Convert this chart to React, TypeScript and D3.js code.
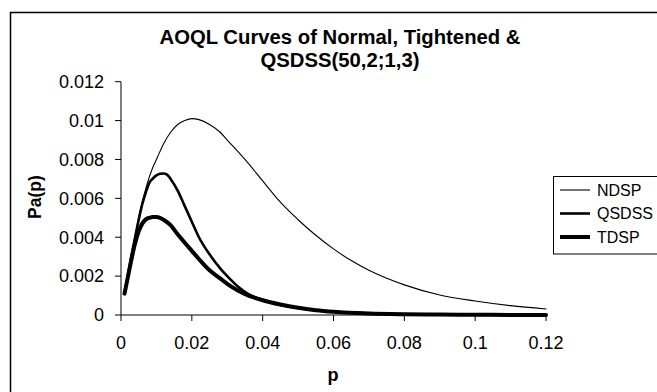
import React from "react";
import * as d3 from "d3";

const pNDSP = [0.001,0.002,0.003,0.004,0.005,0.006,0.007,0.008,0.009,0.010,0.012,0.014,0.016,0.018,0.020,0.022,0.025,0.028,0.030,0.035,0.040,0.045,0.050,0.055,0.060,0.065,0.070,0.080,0.090,0.100,0.110,0.120];
const vNDSP = [0.0011,0.0021,0.0031,0.0041,0.0050,0.0058,0.0065,0.0071,0.0076,0.0080,0.0088,0.0094,0.0098,0.0100,0.0101,0.01005,0.0098,0.0094,0.0090,0.0080,0.0069,0.0058,0.0049,0.0041,0.0034,0.0028,0.0023,0.00155,0.00103,0.00072,0.00048,0.00031];

const pQ = [0.001,0.002,0.003,0.004,0.005,0.006,0.007,0.008,0.009,0.010,0.011,0.012,0.013,0.014,0.016,0.018,0.020,0.022,0.025,0.028,0.030,0.033,0.036,0.040,0.045,0.050,0.055,0.060,0.070,0.080,0.090,0.100,0.110,0.120];
const vQSDSS = [0.0011,0.0021,0.0031,0.0040,0.0049,0.0057,0.0063,0.0068,0.00702,0.00718,0.00726,0.00728,0.00722,0.00700,0.0064,0.0056,0.0048,0.0040,0.00312,0.0024,0.0020,0.00147,0.00107,0.00078,0.00052,0.00036,0.00025,0.00017,0.00008,0.00004,0.00002,0.00001,0.000005,0.000002];

const pT = [0.001,0.002,0.003,0.004,0.005,0.006,0.007,0.008,0.009,0.010,0.011,0.012,0.014,0.016,0.018,0.020,0.022,0.025,0.028,0.030,0.033,0.036,0.040,0.045,0.050,0.055,0.060,0.070,0.080,0.090,0.100,0.110,0.120];
const vTDSP = [0.0011,0.0020,0.0029,0.0037,0.0043,0.0047,0.00492,0.0050,0.00504,0.00504,0.0050,0.0049,0.00462,0.00415,0.00372,0.0033,0.00288,0.0023,0.00188,0.0016,0.00126,0.00100,0.00076,0.00054,0.00037,0.00025,0.00017,0.00008,0.00004,0.00002,0.00001,0.000005,0.000002];

const xTicks = [0, 0.02, 0.04, 0.06, 0.08, 0.1, 0.12];
const yTicks = [0, 0.002, 0.004, 0.006, 0.008, 0.01, 0.012];

const seriesNames = ["NDSP", "QSDSS", "TDSP"];
const seriesWidths = [1.1, 2.6, 4];

export default function App() {
  const x = d3.scaleLinear().domain([0, 0.12]).range([121, 546]);
  const y = d3.scaleLinear().domain([0, 0.012]).range([315, 81.7]);
  const line = d3
    .line<[number, number]>()
    .x((d) => x(d[0]))
    .y((d) => y(d[1]))
    .curve(d3.curveMonotoneX);
  const series: [number, number][][] = [
    pNDSP.map((p, i) => [p, vNDSP[i]]),
    pQ.map((p, i) => [p, vQSDSS[i]]),
    pT.map((p, i) => [p, vTDSP[i]]),
  ];
  const font = "'Liberation Sans', Arial, sans-serif";
  const legendY = [190, 213.5, 237];
  return (
    <svg
      width={657}
      height={392}
      style={{ position: "absolute", left: 0, top: 0, background: "#fff" }}
      fontFamily={font}
    >
      <rect x={10.5} y={12.5} width={700} height={420} fill="#fff" stroke="#000" strokeWidth={1.5} />
      <text x={340} y={43.5} textAnchor="middle" fontSize={20.3} fontWeight="bold">
        AOQL Curves of Normal, Tightened &amp;
      </text>
      <text x={340} y={67} textAnchor="middle" fontSize={20.3} fontWeight="bold">
        QSDSS(50,2;1,3)
      </text>
      <line x1={x(0)} x2={x(0)} y1={y(0.012)} y2={y(0)} stroke="#000" strokeWidth={1} />
      <line x1={x(0)} x2={x(0.12)} y1={y(0)} y2={y(0)} stroke="#000" strokeWidth={1} />
      {yTicks.map((t) => (
        <g key={"y" + t}>
          <line x1={x(0) - 6} x2={x(0)} y1={y(t)} y2={y(t)} stroke="#000" />
          <text x={104} y={y(t)} dy="0.35em" textAnchor="end" fontSize={18}>
            {String(t)}
          </text>
        </g>
      ))}
      {xTicks.map((t) => (
        <g key={"x" + t}>
          <line x1={x(t)} x2={x(t)} y1={y(0)} y2={y(0) + 6} stroke="#000" />
          <text x={x(t)} y={349} textAnchor="middle" fontSize={18}>
            {String(t)}
          </text>
        </g>
      ))}
      <text x={333} y={381} textAnchor="middle" fontSize={18} fontWeight="bold">
        p
      </text>
      <text
        transform="translate(41,197) rotate(-90)"
        textAnchor="middle"
        fontSize={17.5}
        fontWeight="bold"
      >
        Pa(p)
      </text>
      {series.map((s, i) => (
        <path
          key={seriesNames[i]}
          d={line(s) || ""}
          fill="none"
          stroke="#000"
          strokeWidth={seriesWidths[i]}
          strokeLinejoin="round"
          strokeLinecap="round"
        />
      ))}
      <rect x={553.5} y={176.5} width={120} height={77.5} fill="#fff" stroke="#000" strokeWidth={1} />
      {seriesNames.map((n, i) => (
        <g key={"lg" + n}>
          <line x1={560} x2={590} y1={legendY[i]} y2={legendY[i]} stroke="#000" strokeWidth={seriesWidths[i]} />
          <text x={597} y={legendY[i]} dy="0.36em" fontSize={16}>
            {n}
          </text>
        </g>
      ))}
    </svg>
  );
}
